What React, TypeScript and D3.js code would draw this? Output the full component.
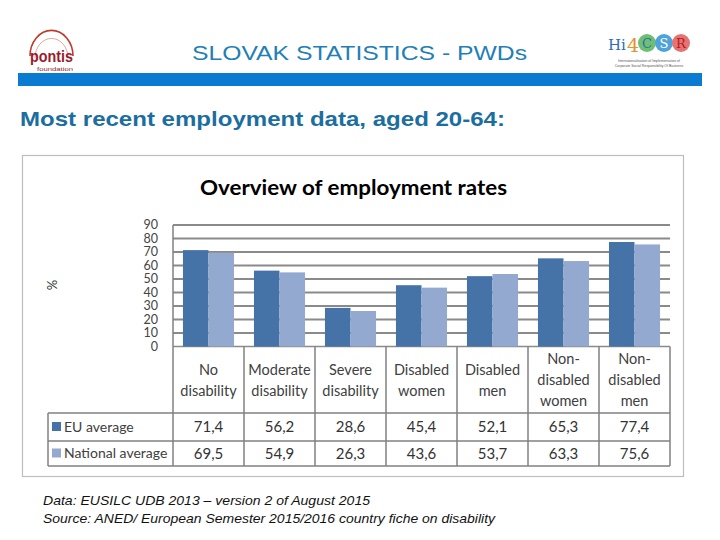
import React from "react";
import * as d3 from "d3";

const categories: string[][] = [
  ["No", "disability"],
  ["Moderate", "disability"],
  ["Severe", "disability"],
  ["Disabled", "women"],
  ["Disabled", "men"],
  ["Non-", "disabled", "women"],
  ["Non-", "disabled", "men"],
];
const seriesNames = ["EU average", "National average"];
const euValues = [71.4, 56.2, 28.6, 45.4, 52.1, 65.3, 77.4];
const nationalValues = [69.5, 54.9, 26.3, 43.6, 53.7, 63.3, 75.6];
const yTicks = [0, 10, 20, 30, 40, 50, 60, 70, 80, 90];

const COLORS = ["#4572a7", "#93a9cf"];
const CHART_FONT = "Lato, 'Open Sans', sans-serif";
const SLIDE_FONT = "'Liberation Sans', Arial, sans-serif";

export default function App() {
  const W = 720;
  const H = 540;
  const plotL = 173;
  const plotR = 670;
  const plotT = 225;
  const plotB = 346.5;
  const tableL = 48;
  const rowTop = 413;
  const rowMid = 441;
  const rowBot = 466;

  const x = d3
    .scaleBand<number>()
    .domain(categories.map((_, i) => i))
    .range([plotL, plotR])
    .paddingInner(0)
    .paddingOuter(0);
  const inner = d3
    .scaleBand<number>()
    .domain([0, 1])
    .range([0, x.bandwidth()])
    .paddingOuter(0.39)
    .paddingInner(0);
  const y = d3.scaleLinear().domain([0, 90]).range([plotB, plotT]);
  const series = [euValues, nationalValues];
  const fmt = (v: number) => v.toFixed(1).replace(".", ",");
  const gridColor = "#8a8a8a";

  return (
    <svg
      width={W}
      height={H}
      style={{ position: "absolute", left: 0, top: 0, background: "#fff" }}
    >
      {/* Header logos */}
      <g>
        <path d="M30,56 A21,25 0 0 1 73,56" fill="none" stroke="#c0392b" strokeWidth={1.6} />
        <path d="M35,58 A16,19 0 0 1 68,58" fill="none" stroke="#e8a598" strokeWidth={1} />
        <text x={30} y={62} fontFamily={SLIDE_FONT} fontWeight="bold" fontSize={17} fill="#9b1b2a" textLength={43} lengthAdjust="spacingAndGlyphs">
          pontis
        </text>
        <text x={37} y={71} fontFamily="'Liberation Sans Narrow', 'Liberation Sans', sans-serif" fontSize={6} fill="#9b1b2a" textLength={36} lengthAdjust="spacingAndGlyphs">
          foundation
        </text>
      </g>
      <g>
        <text x={608} y={50} fontFamily="'DejaVu Serif', serif" fontSize={15} fill="#2e6db0">Hi</text>
        <text x={627} y={52} fontFamily="'DejaVu Serif', serif" fontSize={19} fill="#e8902c">4</text>
        <circle cx={647} cy={43} r={9} fill="#6fbf73" />
        <circle cx={664} cy={43} r={9} fill="#4fa3d8" />
        <circle cx={681} cy={43} r={9} fill="#e57373" />
        <text x={647} y={48} textAnchor="middle" fontFamily="'DejaVu Serif', serif" fontSize={13} fill="#2e6db0">C</text>
        <text x={664} y={48} textAnchor="middle" fontFamily="'DejaVu Serif', serif" fontSize={13} fill="#ffffff">S</text>
        <text x={681} y={48} textAnchor="middle" fontFamily="'DejaVu Serif', serif" fontSize={13} fill="#b71c1c">R</text>
        <text x={649} y={62} textAnchor="middle" fontFamily={SLIDE_FONT} fontSize={3.5} fill="#555">
          Internationalisation of Implementation of
        </text>
        <text x={649} y={67} textAnchor="middle" fontFamily={SLIDE_FONT} fontSize={3.5} fill="#555">
          Corporate Social Responsibility Of Business
        </text>
      </g>

      {/* Slide titles */}
      <text x={192} y={60} fontFamily={SLIDE_FONT} fontSize={21} fill="#1f7fb6" textLength={335} lengthAdjust="spacingAndGlyphs">
        SLOVAK STATISTICS - PWDs
      </text>
      <rect x={18} y={73} width={684} height={13} fill="#0a7bd0" />
      <text x={20} y={126} fontFamily={SLIDE_FONT} fontWeight="bold" fontSize={21} fill="#1b6e9f" textLength={485} lengthAdjust="spacingAndGlyphs">
        Most recent employment data, aged 20-64:
      </text>

      {/* Chart frame */}
      <rect x={22.5} y={155.5} width={661} height={321} fill="#fff" stroke="#bdbdbd" strokeWidth={1.2} />
      <text x={200} y={195} fontFamily={CHART_FONT} fontWeight="bold" fontSize={21} fill="#000" textLength={307} lengthAdjust="spacingAndGlyphs">
        Overview of employment rates
      </text>
      <text
        transform="translate(57,285) rotate(-90)"
        textAnchor="middle"
        fontFamily={CHART_FONT}
        fontSize={13}
        fill="#333"
      >
        %
      </text>

      {/* Grid lines */}
      {yTicks.map((t) => (
        <line key={"g" + t} x1={plotL} x2={plotR} y1={y(t)} y2={y(t)} stroke={gridColor} strokeWidth={t === 0 ? 1.5 : 2} />
      ))}
      {yTicks.map((t) => (
        <text
          key={"t" + t}
          x={158}
          y={y(t)}
          dy="0.35em"
          textAnchor="end"
          fontFamily={CHART_FONT}
          fontSize={12.5}
          fill="#444"
        >
          {t}
        </text>
      ))}

      {/* Bars */}
      {categories.map((_, i) =>
        series.map((vals, s) => (
          <rect
            key={`b${i}-${s}`}
            x={(x(i) as number) + (inner(s) as number)}
            y={y(vals[i])}
            width={inner.bandwidth()}
            height={y(0) - y(vals[i])}
            fill={COLORS[s]}
          />
        ))
      )}

      {/* Table lines */}
      <g stroke="#808080" strokeWidth={1.5}>
        <line x1={plotL} x2={plotL} y1={plotT} y2={rowBot} />
        {categories.map((_, i) => (
          <line key={"v" + i} x1={(x(i) as number) + x.bandwidth()} x2={(x(i) as number) + x.bandwidth()} y1={plotB} y2={rowBot} />
        ))}
        <line x1={tableL} x2={tableL} y1={rowTop} y2={rowBot} />
        <line x1={tableL} x2={plotR} y1={rowTop} y2={rowTop} />
        <line x1={tableL} x2={plotR} y1={rowMid} y2={rowMid} />
        <line x1={tableL} x2={plotR} y1={rowBot} y2={rowBot} />
      </g>

      {/* Category labels */}
      {categories.map((lines, i) => {
        const cx = (x(i) as number) + x.bandwidth() / 2;
        const lh = 21;
        const startY = 380 - ((lines.length - 1) * lh) / 2;
        return lines.map((ln, k) => (
          <text
            key={`c${i}-${k}`}
            x={cx}
            y={startY + k * lh}
            dy="0.35em"
            textAnchor="middle"
            fontFamily={CHART_FONT}
            fontSize={14.5}
            fill="#404040"
          >
            {ln}
          </text>
        ));
      })}

      {/* Legend rows + values */}
      {series.map((vals, s) => {
        const cy = s === 0 ? (rowTop + rowMid) / 2 : (rowMid + rowBot) / 2;
        return (
          <g key={"row" + s}>
            <rect x={52} y={cy - 5} width={9} height={9} fill={COLORS[s]} />
            <text x={64} y={cy} dy="0.35em" fontFamily={CHART_FONT} fontSize={14} fill="#404040">
              {seriesNames[s]}
            </text>
            {vals.map((v, i) => (
              <text
                key={`v${s}-${i}`}
                x={(x(i) as number) + x.bandwidth() / 2}
                y={cy}
                dy="0.35em"
                textAnchor="middle"
                fontFamily={CHART_FONT}
                fontSize={15}
                fill="#333"
              >
                {fmt(v)}
              </text>
            ))}
          </g>
        );
      })}

      {/* Footer */}
      <text x={43} y={505} fontFamily={SLIDE_FONT} fontStyle="italic" fontSize={13} fill="#111" textLength={327} lengthAdjust="spacingAndGlyphs">
        Data: EUSILC UDB 2013 – version 2 of August 2015
      </text>
      <text x={43} y={523} fontFamily={SLIDE_FONT} fontStyle="italic" fontSize={13} fill="#111" textLength={452} lengthAdjust="spacingAndGlyphs">
        Source: ANED/ European Semester 2015/2016 country fiche on disability
      </text>
    </svg>
  );
}
